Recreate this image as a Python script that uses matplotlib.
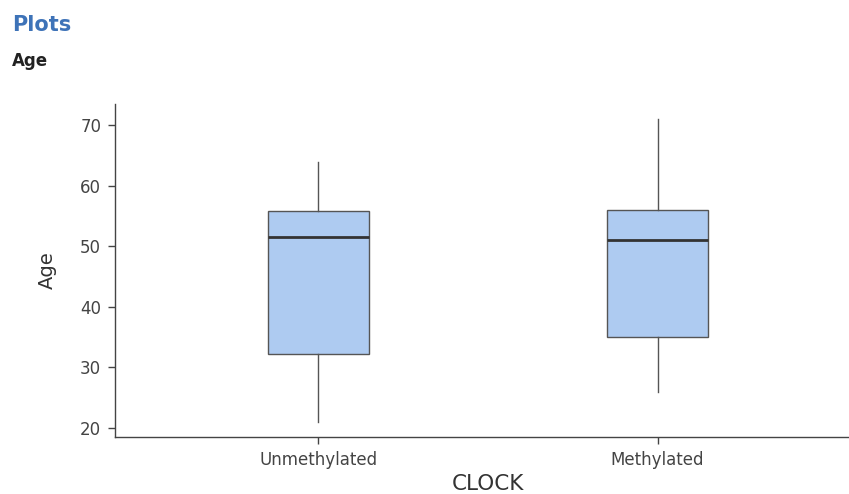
import matplotlib
matplotlib.use("Agg")
import matplotlib.pyplot as plt

plt.rcParams['font.family'] = ['DejaVu Sans']

# box summary values
groups = ['Unmethylated', 'Methylated']
whislo = [21, 26]
q1 = [32.25, 35]
med = [51.5, 51]
q3 = [55.75, 56]
whishi = [64, 71]

stats = []
for i, g in enumerate(groups):
    stats.append({'label': g, 'whislo': whislo[i], 'q1': q1[i], 'med': med[i],
                  'q3': q3[i], 'whishi': whishi[i], 'fliers': []})

fig = plt.figure(figsize=(8.49, 4.94), dpi=100)
ax = fig.add_axes([0.1355, 0.1154, 0.8787, 0.674])

ax.bxp(stats, positions=[1, 2], widths=0.3, patch_artist=True, showcaps=False,
       boxprops=dict(facecolor='#aecbf1', edgecolor='#555555', linewidth=1),
       medianprops=dict(color='#333333', linewidth=2),
       whiskerprops=dict(color='#555555', linewidth=1))

ax.set_xlim(0.4, 2.6)
ax.set_ylim(18.5, 73.5)
ax.set_yticks([20, 30, 40, 50, 60, 70])

for s in ['top', 'right']:
    ax.spines[s].set_visible(False)
for s in ['left', 'bottom']:
    ax.spines[s].set_color('#444444')
    ax.spines[s].set_linewidth(1)
ax.tick_params(colors='#444444', labelcolor='#444444', length=5, width=1, labelsize=12, pad=5)

ax.set_xlabel('CLOCK', fontsize=15.5, color='#333333', labelpad=4)
ax.set_ylabel('Age', fontsize=14, color='#333333', labelpad=17)

fig.text(0.014, 0.95, 'Plots', fontsize=15, fontweight='bold', color='#3e73b8', va='center')
fig.text(0.014, 0.876, 'Age', fontsize=12, fontweight='bold', color='#222222', va='center')

fig.savefig('out.png', dpi=100)
